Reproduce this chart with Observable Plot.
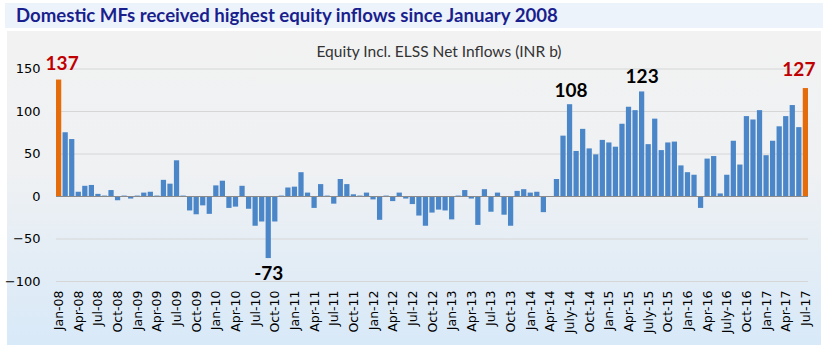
<!DOCTYPE html>
<html><head><meta charset="utf-8">
<script src="https://cdn.jsdelivr.net/npm/d3@7"></script>
<script src="https://cdn.jsdelivr.net/npm/@observablehq/plot@0.6"></script>
<style>
body{margin:0;background:#fff;width:830px;height:352px;position:relative;overflow:hidden;}
#title{position:absolute;left:5px;top:3px;width:818px;height:25px;background:#edf3fa;}
#title span{position:absolute;left:11px;top:1px;font:bold 18.6px Lato, sans-serif;color:#1a1f8e;white-space:nowrap;}
#panel{position:absolute;left:7px;top:31px;width:814px;height:314px;background:linear-gradient(to bottom,#f2f2f2 0%,#eff1f3 45%,#d8e9f8 100%);}
#sub{position:absolute;left:0;top:11px;width:864px;text-align:center;font:15.5px Lato, sans-serif;color:#333;white-space:nowrap;}
#panel svg{position:absolute;left:0;top:0;background:transparent;overflow:visible;}
</style></head>
<body>
<div id="title"><span>Domestic MFs received highest equity inflows since January 2008</span></div>
<div id="panel"><div id="sub">Equity Incl. ELSS Net Inflows (INR b)</div></div>
<script>
// Categories: monthly Jan-2008 .. Jul-2017
const monthNames = ["Jan","Feb","Mar","Apr","May","Jun","Jul","Aug","Sep","Oct","Nov","Dec"];
const months = [];
for (let y = 2008; y <= 2017; y++) {
  for (let m = 0; m < 12; m++) {
    if (y === 2017 && m > 6) break;
    months.push(monthNames[m] + "-" + String(y).slice(2));
  }
}
// Equity incl. ELSS net inflows (INR b)
const values = [
  137, 75, 67, 5, 12, 13, 2.5, 0.5, 7, -5, 0.5, -3,          // 2008
  0.5, 4, 5, 0.5, 19, 14.5, 42, 0.5, -17, -21.5, -11, -21,    // 2009
  12.5, 18, -14, -12.5, 12, -15, -35, -30, -73, -30, 0.5, 10, // 2010
  11, 28, 4, -14, 14, 0.5, -9, 20, 14, 2, 0.5, 4,            // 2011
  -4, -28, 0.5, -6, 4, -3, -9.5, -23, -35, -19.5, -16, -17,  // 2012
  -27.5, 0.5, 7, -3, -34, 8, -18.5, 4, -22, -35, 6, 8,       // 2013
  4, 5, -19, -1, 20, 71, 108, 53, 79, 56, 49, 66,            // 2014
  63, 58, 85, 105, 101, 123, 61, 91, 54, 63, 64, 36,         // 2015
  28, 25, -14, 44, 47, 3, 25, 65, 37, 94, 90, 101,           // 2016
  48, 65, 82, 94, 107, 81, 127                                // 2017
];
const tickLabels = [
  "Jan-08","Apr-08","Jul-08","Oct-08","Jan-09","Apr-09","Jul-09","Oct-09",
  "Jan-10","Apr-10","Jul-10","Oct-10","Jan-11","Apr-11","Jul-11","Oct-11",
  "Jan-12","Apr-12","Jul-12","Oct-12","Jan-13","Apr-13","Jul-13","Oct-13",
  "Jan-14","Apr-14","July-14","Oct-14","Jan-15","Apr-15","July-15","Oct-15",
  "Jan-16","Apr-16","July-16","Oct-16","Jan-17","Apr-17","Jul-17"
];
const yTicks = [-100, -50, 0, 50, 100, 150];
const highlighted = ["Jan-08", "Jul-17"];
const annMonths = ["Jan-08", "Sep-10", "Jul-14", "Jun-15", "Jul-17"];
const annLabels = ["137", "-73", "108", "123", "127"];
const annColors = ["#c00000", "#000000", "#000000", "#000000", "#c00000"];

const data = months.map((m, i) => ({month: m, value: values[i], color: highlighted.includes(m) ? "#e46c0a" : "#4a86c8"}));
const tickKeys = months.filter((_, i) => i % 3 === 0);
const labelOf = new Map(tickKeys.map((k, i) => [k, tickLabels[i]]));
const ann = annMonths.map((m, i) => ({month: m, value: values[months.indexOf(m)], label: annLabels[i], color: annColors[i]}));

const offsets = {"137": [3, -16], "-73": [0, 15], "108": [1, -14], "123": [0, -15.5], "127": [-7, -18.5]};
const annMarks = ann.map(a => Plot.text([a], {
  x: "month", y: "value", text: "label", fill: a.color,
  dx: offsets[a.label][0], dy: offsets[a.label][1],
  lineAnchor: "middle", fontSize: 19, fontWeight: "bold", fontFamily: "Lato, sans-serif"
}));

const chart = Plot.plot({
  width: 814, height: 314,
  marginLeft: 49, marginRight: 13, marginTop: 37.5, marginBottom: 64,
  style: {background: "transparent", overflow: "visible"},
  x: {type: "band", domain: months, paddingInner: 0.2, paddingOuter: 0, axis: null},
  y: {domain: [-100, 150], axis: null},
  color: {type: "identity"},
  marks: [
    Plot.ruleY(yTicks.filter(t => t !== 0), {stroke: "#d6d6d6", strokeWidth: 1}),
    Plot.barY(data, {x: "month", y: "value", fill: "color"}),
    Plot.ruleY([0], {stroke: "#8a8a8a", strokeWidth: 1}),
    Plot.axisY({ticks: yTicks, tickSize: 0, tickPadding: 16, fontSize: 13, fontFamily: "DejaVu Sans, sans-serif", fill: "#000", label: null}),
    Plot.axisX({ticks: tickKeys, tickFormat: d => labelOf.get(d), tickRotate: -90, tickSize: 0, tickPadding: 9, fontSize: 12.5, fontFamily: "DejaVu Sans, sans-serif", fill: "#000", label: null}),
    ...annMarks
  ]
});
document.getElementById("panel").appendChild(chart);
</script>
</body></html>
